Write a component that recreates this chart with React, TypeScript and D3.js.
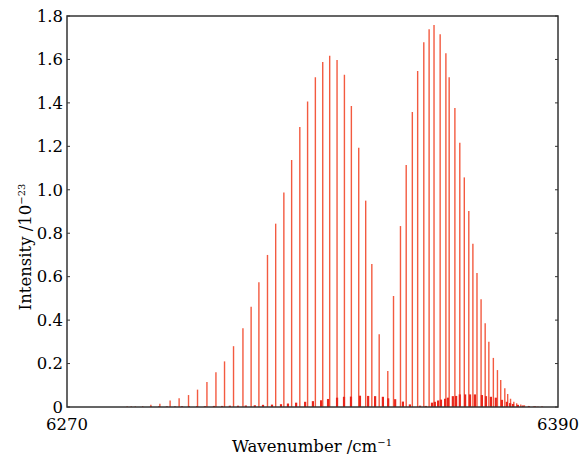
import React, { useEffect, useRef } from 'react';
import * as d3 from 'd3';

// strong band lines: wavenumber (cm-1) and intensity (1e-23)
const strongWn = [
  6284.7, 6285.7, 6286.7, 6288.5, 6290.5, 6292.7, 6295.2, 6297.4, 6299.7, 6301.9,
  6304.2, 6306.4, 6308.5, 6310.7, 6313.0, 6315.0, 6316.9, 6319.0, 6321.0, 6323.0,
  6324.9, 6326.9, 6328.8, 6330.7, 6332.5, 6334.2, 6336.0, 6337.8, 6339.5, 6341.3,
  6343.0, 6344.5, 6346.3, 6348.4, 6349.8, 6351.5, 6352.9, 6354.4, 6355.7, 6357.2,
  6358.5, 6359.7, 6361.2, 6362.6, 6363.4, 6364.8, 6366.0, 6367.1, 6368.2, 6369.2,
  6370.2, 6371.2, 6372.2, 6373.1, 6374.2, 6375.2, 6376.0, 6377.0, 6377.7, 6378.4,
  6379.2, 6379.9, 6380.9, 6381.8, 6382.8, 6384.0, 6385.1, 6386.1,
];
const strongI = [
  0.003, 0.003, 0.003, 0.004, 0.01, 0.015, 0.03, 0.04, 0.055, 0.08,
  0.115, 0.16, 0.21, 0.28, 0.362, 0.462, 0.574, 0.70, 0.844, 0.988,
  1.137, 1.289, 1.406, 1.518, 1.588, 1.617, 1.598, 1.530, 1.386, 1.194,
  0.95, 0.658, 0.335, 0.166, 0.511, 0.833, 1.114, 1.358, 1.547, 1.679,
  1.739, 1.759, 1.716, 1.628, 1.518, 1.377, 1.217, 1.057, 0.902, 0.752,
  0.617, 0.496, 0.385, 0.30, 0.226, 0.17, 0.124, 0.086, 0.06, 0.038,
  0.024, 0.017, 0.011, 0.008, 0.005, 0.003, 0.002, 0.001,
];

// weak band lines
const weakWn = [
  6290.5, 6292.5, 6294.4, 6296.4, 6298.1, 6299.8, 6301.8, 6303.7, 6305.9, 6307.9,
  6309.8, 6311.8, 6313.7, 6315.9, 6317.9, 6320.1, 6322.3, 6324.0, 6326.0, 6328.2,
  6330.1, 6332.1, 6333.8, 6336.0, 6337.7, 6339.4, 6341.6, 6343.6, 6345.3, 6347.2,
  6348.5, 6350.2, 6352.1, 6353.8, 6356.3, 6357.7, 6359.2, 6359.9, 6360.7, 6361.4,
  6362.4, 6363.1, 6364.3, 6365.1, 6366.0, 6367.3, 6368.5, 6369.7, 6371.4, 6372.4,
  6373.6, 6374.8, 6376.3, 6377.5, 6378.3, 6379.0, 6380.2, 6381.4, 6382.9, 6384.4,
  6386.1,
];
const weakI = [
  0.002, 0.003, 0.003, 0.003, 0.004, 0.004, 0.004, 0.004, 0.005, 0.005,
  0.006, 0.006, 0.007, 0.008, 0.01, 0.011, 0.013, 0.016, 0.02, 0.024,
  0.027, 0.031, 0.037, 0.043, 0.047, 0.048, 0.052, 0.051, 0.05, 0.047,
  0.04, 0.036, 0.025, 0.012, 0.006, 0.005, 0.02, 0.024, 0.03, 0.034,
  0.038, 0.043, 0.05, 0.051, 0.058, 0.058, 0.058, 0.058, 0.055, 0.05,
  0.047, 0.043, 0.033, 0.024, 0.018, 0.014, 0.01, 0.007, 0.004, 0.003,
  0.002,
];

const yTicks = [0, 0.2, 0.4, 0.6, 0.8, 1.0, 1.2, 1.4, 1.6, 1.8];
const xTicks = [6270, 6390];

export default function App() {
  const svgRef = useRef<SVGSVGElement>(null);

  useEffect(() => {
    const width = 580, height = 460;
    const margin = { top: 16, right: 22, bottom: 53, left: 67 };
    const font = '"DejaVu Serif", serif';

    const svg = d3.select(svgRef.current);
    svg.selectAll('*').remove();

    const x = d3.scaleLinear().domain([6270, 6390]).range([margin.left, width - margin.right]);
    const y = d3.scaleLinear().domain([0, 1.8]).range([height - margin.bottom, margin.top]);

    const strong = strongWn.map((w, i) => ({ w, v: strongI[i] }));
    const weak = weakWn.map((w, i) => ({ w, v: weakI[i] }));

    svg.append('g')
      .selectAll('line')
      .data(strong)
      .join('line')
      .attr('x1', d => x(d.w)).attr('x2', d => x(d.w))
      .attr('y1', y(0)).attr('y2', d => y(d.v))
      .attr('stroke', '#f35a40')
      .attr('stroke-width', 1.4);

    // weak lines drawn as close doublets
    svg.append('g')
      .selectAll('line')
      .data(weak)
      .join('line')
      .attr('x1', d => x(d.w)).attr('x2', d => x(d.w))
      .attr('y1', y(0)).attr('y2', d => y(d.v))
      .attr('stroke', '#e8261c')
      .attr('stroke-width', 2.2);

    // frame
    svg.append('rect')
      .attr('x', margin.left).attr('y', margin.top)
      .attr('width', width - margin.left - margin.right)
      .attr('height', height - margin.top - margin.bottom)
      .attr('fill', 'none')
      .attr('stroke', '#333')
      .attr('stroke-width', 1.5);

    // y ticks
    const yt = svg.append('g');
    yt.selectAll('line.l')
      .data(yTicks)
      .join('line')
      .attr('class', 'l')
      .attr('x1', margin.left).attr('x2', margin.left + 3)
      .attr('y1', d => y(d)).attr('y2', d => y(d))
      .attr('stroke', '#333');
    yt.selectAll('line.r')
      .data(yTicks)
      .join('line')
      .attr('class', 'r')
      .attr('x1', width - margin.right - 3).attr('x2', width - margin.right)
      .attr('y1', d => y(d)).attr('y2', d => y(d))
      .attr('stroke', '#333');
    yt.selectAll('text')
      .data(yTicks)
      .join('text')
      .attr('x', margin.left - 4)
      .attr('y', d => y(d))
      .attr('dy', '0.35em')
      .attr('text-anchor', 'end')
      .style('font-family', font)
      .style('font-size', '16.5px')
      .attr('fill', '#000')
      .text(d => (d === 0 ? '0' : d3.format('.1f')(d)));

    svg.append('g')
      .selectAll('text')
      .data(xTicks)
      .join('text')
      .attr('x', d => x(d))
      .attr('y', 430)
      .attr('text-anchor', 'middle')
      .style('font-family', font)
      .style('font-size', '16.5px')
      .attr('fill', '#000')
      .text(d => d);

    const xl = svg.append('text')
      .attr('x', 312).attr('y', 452)
      .attr('text-anchor', 'middle')
      .style('font-family', font)
      .style('font-size', '16.5px')
      .attr('fill', '#000');
    xl.append('tspan').text('Wavenumber /cm');
    xl.append('tspan').attr('dy', -6).style('font-size', '10px').text('\u22121');

    const yl = svg.append('text')
      .attr('transform', 'translate(31,247) rotate(-90)')
      .attr('text-anchor', 'middle')
      .style('font-family', font)
      .style('font-size', '16.5px')
      .attr('fill', '#000');
    yl.append('tspan').text('Intensity /10');
    yl.append('tspan').attr('dy', -6).style('font-size', '10px').text('\u221223');
  }, []);

  return (
    <svg ref={svgRef} width={580} height={460}
      style={{ position: 'absolute', left: 0, top: 0, background: '#fff' }} />
  );
}
